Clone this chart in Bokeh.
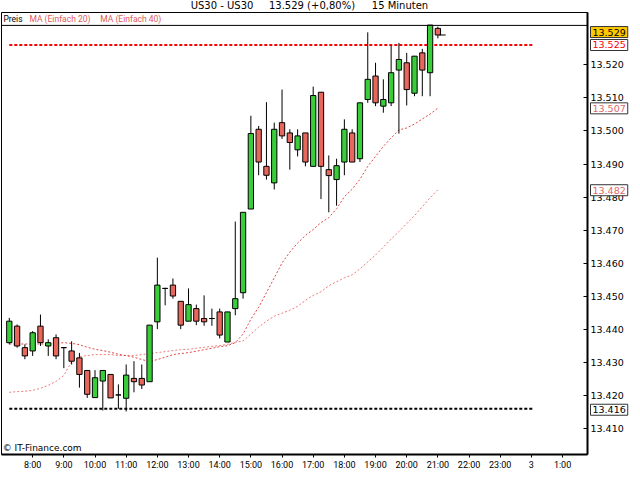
from bokeh.plotting import figure
from bokeh.models import Label, FixedTicker, Span, ColumnDataSource, GridBox
from bokeh.embed import file_html
from bokeh.resources import INLINE

# ---------------- data ----------------
title_parts = ["US30 - US30", "13.529 (+0,80%)", "15 Minuten"]
legend_labels = ["Preis", "MA (Einfach 20)", "MA (Einfach 40)"]
copyright_text = "\u00a9 IT-Finance.com"

# 15-minute candles, 7:15 ... 21:00
opens = [13436, 13441, 13434.5, 13433.5, 13441, 13435, 13437.5, 13434.5, 13433.5, 13431.4,
         13427.6, 13419.4, 13424.4, 13426.4, 13420.2, 13419.2, 13425.2, 13425.2, 13424.2, 13442.3,
         13452.4, 13453.4, 13448.5, 13442.5, 13446.3, 13443.3, 13443.3, 13445.3, 13436.2, 13446.3,
         13451.1, 13476.4, 13500.5, 13489.3, 13484.3, 13502.5, 13499.4, 13494.3, 13499.4, 13489.3,
         13511.7, 13488.3, 13485.3, 13490.6, 13499.4, 13491.6, 13509.5, 13516.6, 13507.5, 13508.5,
         13518.4, 13520.6, 13511.4, 13523.6, 13517.6, 13531]
highs = [13443.5, 13441.5, 13435.5, 13439.5, 13444.5, 13437, 13438.5, 13434.5, 13436.4, 13432.9,
         13427.6, 13427.7, 13427.6, 13426.4, 13423.4, 13429.4, 13430.4, 13429.4, 13441.3, 13461.7,
         13452.6, 13455.4, 13448.5, 13452.4, 13447.5, 13450.3, 13446.3, 13446.3, 13445.3, 13472.6,
         13475.4, 13504.6, 13501.5, 13508.7, 13502.5, 13512.5, 13500.5, 13500.5, 13499.4, 13513.4,
         13511.7, 13492.6, 13491.6, 13503.5, 13500.5, 13508.5, 13529.8, 13520.6, 13515.6, 13525.8,
         13526.6, 13523.6, 13522.6, 13524.8, 13532, 13531.5]
lows = [13435.5, 13434.5, 13431, 13432, 13435, 13432, 13431, 13428.3, 13429.4, 13422.4,
        13419.3, 13419.4, 13415.5, 13419.3, 13416, 13415.2, 13421, 13422, 13424.2, 13440.1,
        13447.3, 13449.3, 13440.1, 13442.5, 13441.3, 13441.1, 13441.1, 13437.3, 13436.2, 13444.3,
        13449.3, 13476.4, 13486.6, 13485.3, 13482.3, 13497.6, 13488.3, 13492.3, 13489.3, 13489.3,
        13479.4, 13475.4, 13477.4, 13486.6, 13490.6, 13490.6, 13508.5, 13507.5, 13505.5, 13507.5,
        13499.2, 13507.7, 13510.5, 13510.5, 13510.5, 13528]
closes = [13442.5, 13435, 13432, 13439, 13436, 13436, 13432, 13434.5, 13430.4, 13426.4,
          13420.4, 13425.4, 13427.6, 13419.3, 13420.2, 13426.2, 13424.2, 13423.2, 13441.3, 13453.4,
          13452.4, 13450.1, 13441.3, 13447.5, 13442.5, 13442.3, 13443.3, 13438.3, 13445.3, 13449.3,
          13475.4, 13499.2, 13490.6, 13486.6, 13500.5, 13498.5, 13496.5, 13498.5, 13490.6, 13510.7,
          13489.3, 13486.5, 13489.5, 13500.5, 13490.6, 13508.5, 13515.6, 13508.5, 13509.5, 13517.6,
          13521.6, 13512.5, 13522.6, 13518.4, 13532, 13529]

ma20 = [13435.6, 13435.6, 13435.6, 13435.6, 13435.6, 13435.6, 13435.8, 13436.0, 13435.8, 13435.4,
        13434.6, 13434.0, 13433.6, 13433.1, 13432.5, 13432.1, 13431.6, 13430.9, 13430.3, 13430.9,
        13431.6, 13432.4, 13432.7, 13433.0, 13433.4, 13433.9, 13434.3, 13434.8, 13435.1, 13436.0,
        13438.6, 13443.1, 13446.7, 13451.1, 13455.6, 13460.1, 13463.4, 13466.1, 13468.4, 13470.2,
        13472.3, 13473.8, 13476.5, 13480.1, 13482.4, 13485.4, 13489.3, 13492.3, 13495.3, 13497.9,
        13500.3, 13500.9, 13502.1, 13503.6, 13505.1, 13506.9]
ma40 = [13421.0, 13421.2, 13421.3, 13421.6, 13422.2, 13423.1, 13424.3, 13426.1, 13430.3, 13431.8,
        13432.1, 13432.4, 13432.4, 13432.4, 13432.1, 13432.1, 13432.1, 13432.4, 13432.7, 13433.0,
        13433.3, 13433.6, 13433.9, 13434.0, 13434.3, 13434.6, 13434.9, 13435.1, 13435.5, 13436.1,
        13436.5, 13438.6, 13440.7, 13442.5, 13444.0, 13444.9, 13445.8, 13447.0, 13448.8, 13450.3,
        13451.4, 13453.2, 13454.4, 13455.6, 13456.5, 13458.3, 13460.4, 13462.5, 13464.9, 13467.3,
        13469.6, 13472.0, 13474.4, 13477.1, 13479.8, 13482.2]

x_tick_pos = [4, 8, 12, 16, 20, 24, 28, 32, 36, 40, 44, 48, 52, 56, 60, 64, 68, 72]
x_tick_labels = ["8:00", "9:00", "10:00", "11:00", "12:00", "13:00", "14:00", "15:00", "16:00",
                 "17:00", "18:00", "19:00", "20:00", "21:00", "22:00", "23:00", "3", "1:00"]
y_ticks = [13410, 13420, 13430, 13440, 13450, 13460, 13470, 13480, 13490, 13500, 13510, 13520]
y_tick_labels = ["13.410", "13.420", "13.430", "13.440", "13.450", "13.460", "13.470", "13.480",
                 "13.490", "13.500", "13.510", "13.520"]

last_price = 13529
last_label = "13.529"
resistance = 13526
resistance_label = "13.525"
support = 13416
support_label = "13.416"
ma20_label = "13.507"
ma40_label = "13.482"
level_start, level_end = 1, 68.3

# ---------------- main chart ----------------
n = len(opens)
xs = list(range(1, n + 1))
GREEN, RED = "#3ACD3A", "#E8675C"
colors = [GREEN if c > o else (RED if c < o else "#000000") for o, c in zip(opens, closes)]
src = ColumnDataSource(dict(
    x=xs, high=highs, low=lows,
    top=[max(o, c) for o, c in zip(opens, closes)],
    bottom=[min(o, c) for o, c in zip(opens, closes)],
    color=colors))

W, H = 632, 472
Y0, Y1 = 13402.2, 13535.8          # main frame price range
p = figure(width=W, height=H, x_range=(0, 75.2), y_range=(Y0, Y1),
           output_backend="svg", toolbar_location=None, y_axis_location="right",
           min_border_left=1, min_border_right=45, min_border_top=12, min_border_bottom=17)
p.xgrid.visible = False
p.ygrid.visible = False
p.outline_line_color = "black"
p.outline_line_width = 1
p.background_fill_color = "white"
p.border_fill_color = "white"

ya = p.yaxis[0]
ya.ticker = FixedTicker(ticks=y_ticks)
ya.major_label_overrides = dict(zip(y_ticks, y_tick_labels))
ya.major_tick_in = 4
ya.major_tick_out = 0
ya.minor_tick_in = 0
ya.minor_tick_out = 0
ya.axis_line_width = 2
ya.axis_line_color = "black"
ya.major_label_standoff = 3
ya.major_label_text_font = "DejaVu Sans"
ya.major_label_text_font_size = "9.5px"
ya.major_label_text_color = "black"

xa = p.xaxis[0]
xa.ticker = FixedTicker(ticks=x_tick_pos)
xa.major_label_overrides = dict(zip(x_tick_pos, x_tick_labels))
xa.major_tick_in = 0
xa.major_tick_out = 3
xa.minor_tick_in = 0
xa.minor_tick_out = 0
xa.axis_line_width = 2
xa.axis_line_color = "black"
xa.major_label_standoff = 2
xa.major_label_text_font = "Roboto"
xa.major_label_text_font_size = "9px"
xa.major_label_text_color = "black"

# separator between legend strip and chart area
p.add_layout(Span(location=13531.9, dimension="width", line_color="black", line_width=1))

# horizontal levels
p.segment(x0=[level_start], y0=[resistance], x1=[level_end], y1=[resistance],
          line_color="#FF0000", line_width=2, line_dash="3 2")
p.segment(x0=[level_start], y0=[support], x1=[level_end], y1=[support],
          line_color="black", line_width=2, line_dash="3 2")

# moving averages
p.line(xs, ma40, line_color="#EE7A7A", line_width=1, line_dash="2 2")
p.line(xs, ma20, line_color="#E04848", line_width=1, line_dash="2 2")

# candles
p.segment(x0="x", y0="low", x1="x", y1="high", source=src, line_color="black", line_width=1)
p.vbar(x="x", width=0.68, top="top", bottom="bottom", source=src,
       fill_color="color", line_color="black", line_width=1)
p.segment(x0=[n + 0.2], y0=[last_price], x1=[n + 1.0], y1=[last_price],
          line_color="black", line_width=1)

# legend strip
for t, xl, col in zip(legend_labels, [0.25, 3.59, 12.68], ["black", "#E05A5A", "#E05A5A"]):
    p.add_layout(Label(x=xl, y=13533.9, text=t, text_align="left", text_baseline="middle",
                       text_font="Roboto", text_font_size="8.5px", text_color=col))

p.add_layout(Label(x=0.15, y=13404.3, text=copyright_text, text_align="left",
                   text_baseline="middle", text_font="DejaVu Sans", text_font_size="9px",
                   text_color="black"))

# ---------------- transparent overlay for title and price tags ----------------
px_per_price = (H - 12 - 17) / (Y1 - Y0)
ov = figure(width=W, height=H, x_range=(0, W),
            y_range=(Y0 - 17 / px_per_price, Y1 + 12 / px_per_price),
            output_backend="svg", toolbar_location=None,
            x_axis_type=None, y_axis_type=None,
            min_border_left=0, min_border_right=0, min_border_top=0, min_border_bottom=0)
ov.frame_align = False
ov.xgrid.visible = False
ov.ygrid.visible = False
ov.outline_line_color = None
ov.background_fill_alpha = 0
ov.border_fill_alpha = 0

title_y = Y1 + 7 / px_per_price
for t, xc in zip(title_parts, [221.5, 311.5, 399.5]):
    ov.add_layout(Label(x=xc, y=title_y, text=t, text_align="center", text_baseline="middle",
                        text_font="DejaVu Sans", text_font_size="10px", text_color="black"))

tags = [
    (last_price, last_label, "black", "#FFC800", 3),
    (resistance, resistance_label, "#FF0000", "white", 0),
    (ma20[-1], ma20_label, "#E06868", "white", 0),
    (ma40[-1], ma40_label, "#E06868", "white", 0),
    (support, support_label, "black", "white", 0),
]
for yv, t, tc, bg, yo in tags:
    ov.add_layout(Label(x=590, y=yv, y_offset=yo, text=t, text_align="left",
                        text_baseline="middle", text_font="DejaVu Sans", text_font_size="9.5px",
                        text_color=tc, background_fill_color=bg, border_line_color="#333333",
                        border_line_width=1, padding=2))

layout = GridBox(children=[(p, 0, 0), (ov, 0, 0)])
open("out.html", "w").write(file_html(layout, INLINE))
